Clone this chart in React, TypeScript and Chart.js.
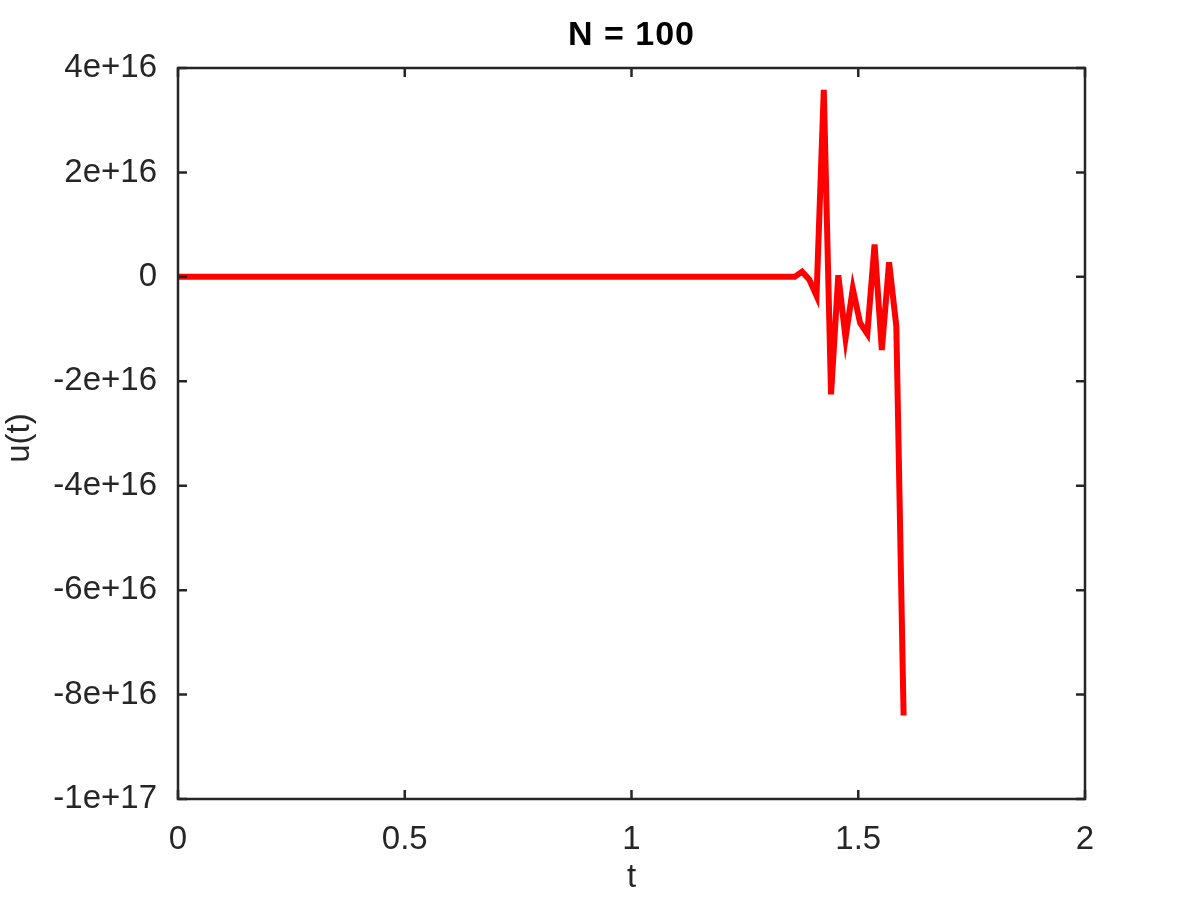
import { useEffect, useRef } from 'react';
import { Chart, registerables } from 'chart.js';

Chart.register(...registerables);

const titleText = 'N = 100';
const xAxisLabel = 't';
const yAxisLabel = 'u(t)';

const tValues = [0, 1.36, 1.376, 1.392, 1.408, 1.424, 1.44, 1.456, 1.472, 1.488, 1.504, 1.52, 1.536, 1.552, 1.568, 1.584, 1.6];
const uValues = [0, 0, 0.1e16, -0.05e16, -0.36e16, 3.58e16, -2.25e16, 0.03e16, -1.17e16, -0.23e16, -0.88e16, -1.09e16, 0.62e16, -1.4e16, 0.28e16, -0.95e16, -8.4e16];

const xTicks = [0, 0.5, 1, 1.5, 2];
const yTicks = [-1e17, -8e16, -6e16, -4e16, -2e16, 0, 2e16, 4e16];

const FONT = '"Liberation Sans", Arial, Helvetica, sans-serif';
const INK = '#262626';

function fmtY(v: number): string {
  if (Math.abs(v) < 1) return '0';
  return Number(v.toPrecision(3)).toExponential();
}

const framePlugin = {
  id: 'frame',
  afterDraw(chart: any) {
    const { ctx, chartArea, scales } = chart;
    const { left, right, top, bottom } = chartArea;
    const xs = scales.x;
    const ys = scales.y;
    ctx.save();
    ctx.strokeStyle = INK;
    ctx.lineWidth = 2.5;
    ctx.strokeRect(left, top, right - left, bottom - top);
    const tl = 9;
    ctx.beginPath();
    xTicks.forEach((v) => {
      const px = xs.getPixelForValue(v);
      ctx.moveTo(px, bottom);
      ctx.lineTo(px, bottom - tl);
      ctx.moveTo(px, top);
      ctx.lineTo(px, top + tl);
    });
    yTicks.forEach((v) => {
      const py = ys.getPixelForValue(v);
      ctx.moveTo(left, py);
      ctx.lineTo(left + tl, py);
      ctx.moveTo(right, py);
      ctx.lineTo(right - tl, py);
    });
    ctx.stroke();

    ctx.fillStyle = '#000000';
    ctx.textAlign = 'center';
    ctx.textBaseline = 'middle';
    ctx.font = `bold 34px ${FONT}`;
    if ('letterSpacing' in ctx) (ctx as any).letterSpacing = '1px';
    ctx.fillText(titleText, (left + right) / 2, 36);
    if ('letterSpacing' in ctx) (ctx as any).letterSpacing = '0px';

    ctx.fillStyle = INK;
    ctx.font = `33px ${FONT}`;
    ctx.fillText(xAxisLabel, (left + right) / 2, 878);

    ctx.translate(20, 438);
    ctx.rotate(-Math.PI / 2);
    ctx.fillText(yAxisLabel, 0, 0);
    ctx.restore();
  },
};

export default function App() {
  const ref = useRef<HTMLCanvasElement | null>(null);

  useEffect(() => {
    if (!ref.current) return;
    const chart = new Chart(ref.current, {
      type: 'line',
      data: {
        datasets: [
          {
            data: tValues.map((t, i) => ({ x: t, y: uValues[i] })),
            borderColor: '#ff0000',
            borderWidth: 6,
            pointRadius: 0,
            fill: false,
            tension: 0,
            borderJoinStyle: 'miter',
          },
        ],
      },
      options: {
        animation: false,
        responsive: false,
        maintainAspectRatio: false,
        events: [],
        layout: { padding: { top: 68, right: 115, bottom: 0, left: 0 } },
        plugins: { legend: { display: false }, tooltip: { enabled: false }, title: { display: false } },
        scales: {
          x: {
            type: 'linear',
            min: 0,
            max: 2,
            grid: { display: false, drawTicks: false },
            border: { display: false },
            afterBuildTicks: (s: any) => {
              s.ticks = xTicks.map((v) => ({ value: v }));
            },
            afterFit: (s: any) => {
              s.height = 101;
            },
            ticks: {
              color: INK,
              font: { family: FONT, size: 33 },
              padding: 21,
              maxRotation: 0,
              callback: (v: any) => String(v),
            },
          },
          y: {
            type: 'linear',
            min: -1e17,
            max: 4e16,
            grid: { display: false, drawTicks: false },
            border: { display: false },
            afterBuildTicks: (s: any) => {
              s.ticks = yTicks.map((v) => ({ value: v }));
            },
            afterFit: (s: any) => {
              s.width = 178;
            },
            ticks: {
              color: INK,
              font: { family: FONT, size: 33 },
              padding: 21,
              callback: (v: any) => fmtY(Number(v)),
            },
          },
        },
      },
      plugins: [framePlugin],
    } as any);
    return () => chart.destroy();
  }, []);

  return (
    <div style={{ position: 'fixed', left: 0, top: 0, width: 1200, height: 900, background: '#ffffff' }}>
      <canvas ref={ref} width={1200} height={900} style={{ width: 1200, height: 900, display: 'block' }} />
    </div>
  );
}
